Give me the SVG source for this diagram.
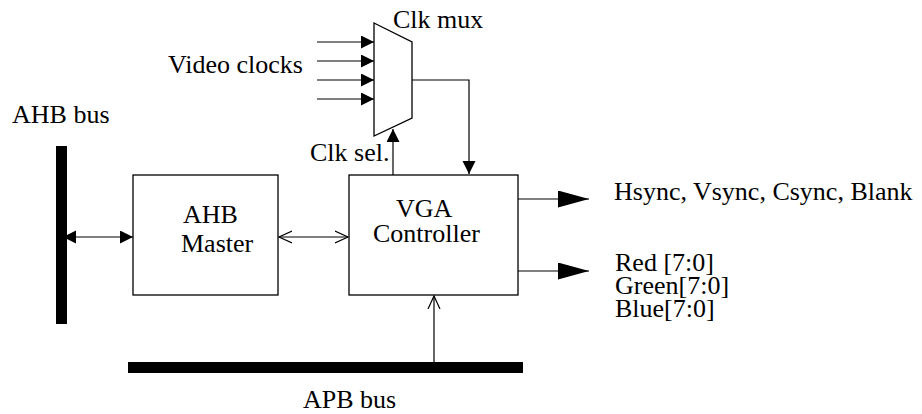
<svg xmlns="http://www.w3.org/2000/svg" width="922" height="414" viewBox="0 0 922 414">
<style>
text{font-family:'Liberation Serif','Tinos','Times New Roman','DejaVu Serif',serif;font-size:26px;fill:#000}
.box{fill:#fff;stroke:#000;stroke-width:1.3}
.bus{fill:#000}
.ln{fill:none;stroke:#000;stroke-width:1.2}
</style>
<defs>
<marker id="fa" markerUnits="userSpaceOnUse" markerWidth="14" markerHeight="14" refX="13" refY="6.5" orient="auto-start-reverse" viewBox="0 0 14 14">
<path d="M0,0 L13,6.5 L0,13 z" fill="#000"/>
</marker>
<marker id="big" markerUnits="userSpaceOnUse" markerWidth="32" markerHeight="18" refX="31" refY="8.5" orient="auto" viewBox="0 0 32 18">
<path d="M0,0 L31,8.5 L0,17 z" fill="#000"/>
</marker>
<marker id="oa" markerUnits="userSpaceOnUse" markerWidth="16" markerHeight="16" refX="13" refY="7" orient="auto-start-reverse" viewBox="0 0 16 16">
<path d="M0,1 L13,7 L0,13" fill="none" stroke="#000" stroke-width="1.2"/>
</marker>
</defs>

<g id="ahb-bus">
<rect class="bus" x="56" y="146" width="11" height="178"/>
<text x="12" y="123" font-family="Liberation Serif, serif">AHB bus</text>
</g>
<g id="apb-bus">
<rect class="bus" x="128" y="362" width="395" height="11"/>
<text x="303" y="408">APB bus</text>
</g>
<g id="ahb-master">
<rect class="box" x="133" y="175" width="145" height="120"/>
<text x="183" y="223">AHB</text>
<text x="181" y="252">Master</text>
</g>
<g id="vga-controller">
<rect class="box" x="349" y="175" width="169" height="120"/>
<text x="396" y="217">VGA</text>
<text x="373" y="242">Controller</text>
</g>
<g id="clk-mux">
<path class="box" d="M374,23 L412,42 L412,118 L374,136 Z"/>
<text x="393" y="28">Clk mux</text>
</g>
<g id="labels">
<text x="168" y="73">Video clocks</text>
<text x="310" y="161">Clk sel.</text>
<text x="614" y="200">Hsync, Vsync, Csync, Blank</text>
<text x="615" y="271">Red [7:0]</text>
<text x="615" y="294">Green[7:0]</text>
<text x="615" y="317">Blue[7:0]</text>
</g>

<g id="connectors">
<line class="ln" x1="317" y1="42" x2="374" y2="42" marker-end="url(#fa)"/>
<line class="ln" x1="317" y1="61" x2="374" y2="61" marker-end="url(#fa)"/>
<line class="ln" x1="317" y1="80" x2="374" y2="80" marker-end="url(#fa)"/>
<line class="ln" x1="317" y1="99" x2="374" y2="99" marker-end="url(#fa)"/>
<polyline class="ln" points="412,80 469,80 469,174" marker-end="url(#fa)"/>
<line class="ln" x1="393" y1="175" x2="393" y2="129" marker-end="url(#fa)"/>
<line class="ln" x1="63" y1="237" x2="133" y2="237" marker-start="url(#fa)" marker-end="url(#fa)"/>
<line class="ln" x1="279" y1="237" x2="348" y2="237" marker-start="url(#oa)" marker-end="url(#oa)"/>
<line class="ln" x1="518" y1="199" x2="589" y2="199" marker-end="url(#big)"/>
<line class="ln" x1="518" y1="271" x2="589" y2="271" marker-end="url(#big)"/>
<line class="ln" x1="434" y1="362" x2="434" y2="296" marker-end="url(#oa)"/>
</g>
</svg>
